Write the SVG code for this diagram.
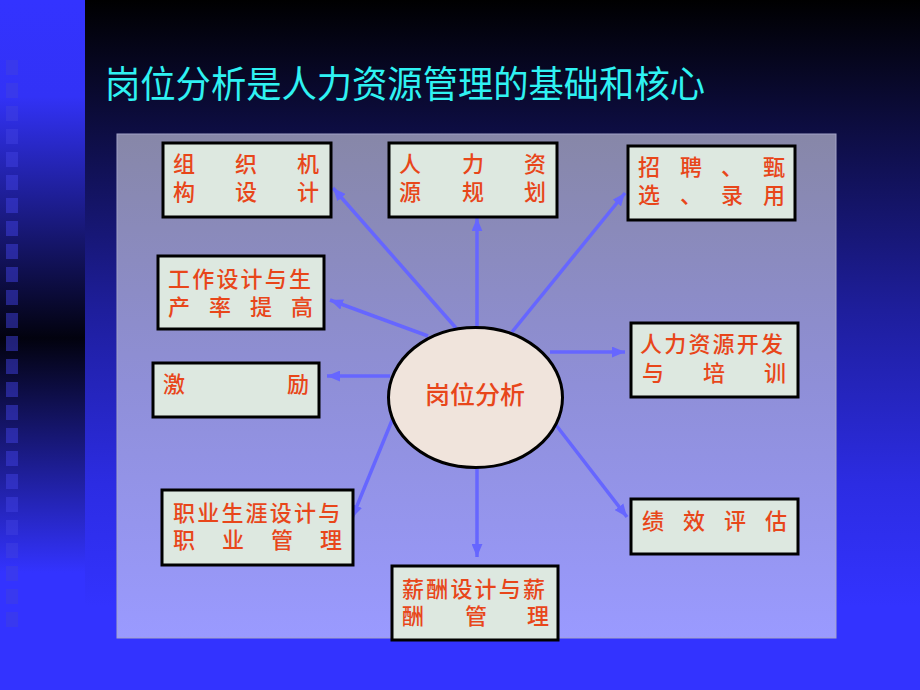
<svg xmlns="http://www.w3.org/2000/svg" width="920" height="690" viewBox="0 0 920 690">
<defs>
<linearGradient id="bgMain" x1="0" y1="0" x2="0" y2="1">
<stop offset="0" stop-color="#000000"/>
<stop offset="0.2" stop-color="#0e0e46"/>
<stop offset="0.45" stop-color="#1e1e9c"/>
<stop offset="0.7" stop-color="#2c2ce2"/>
<stop offset="0.88" stop-color="#3333ff"/>
<stop offset="1" stop-color="#3333ff"/>
</linearGradient>
<linearGradient id="bgStrip" x1="0" y1="0" x2="0" y2="1">
<stop offset="0" stop-color="#3333ff"/>
<stop offset="0.14" stop-color="#3232f6"/>
<stop offset="0.49" stop-color="#02020e"/>
<stop offset="0.83" stop-color="#3333ff"/>
<stop offset="1" stop-color="#3333ff"/>
</linearGradient>
<linearGradient id="panel" x1="0" y1="0" x2="0" y2="1">
<stop offset="0" stop-color="#8787a8"/>
<stop offset="0.5" stop-color="#8f8fd8"/>
<stop offset="1" stop-color="#9a9aff"/>
</linearGradient>
<pattern id="sq" x="0" y="60" width="20" height="23" patternUnits="userSpaceOnUse">
<rect x="6" y="0" width="12" height="15" fill="#4040e0" fill-opacity="0.5"/>
</pattern>
<marker id="ah" viewBox="0 0 12 10" refX="12" refY="5" markerWidth="13" markerHeight="11" markerUnits="userSpaceOnUse" orient="auto">
<path d="M0,0 L12,5 L0,10 z" fill="#6666ff"/>
</marker>
</defs>
<style>
.box{fill:#dde8e0;stroke:#000;stroke-width:3}
.t{font-family:"Noto Sans CJK SC","Noto Sans CJK JP",sans-serif;font-size:22px;font-weight:500;fill:#e8461a}
.r{letter-spacing:2.2px}
.c{stroke:#6666ff;stroke-width:3.5;fill:none;marker-end:url(#ah)}
</style>
<rect x="0" y="0" width="920" height="690" fill="url(#bgMain)"/>
<rect x="0" y="0" width="85" height="690" fill="url(#bgStrip)"/>
<rect x="0" y="60" width="20" height="575" fill="url(#sq)"/>
<text x="105" y="98" textLength="600" lengthAdjust="spacingAndGlyphs" style="font-family:'Noto Sans CJK SC','Noto Sans CJK JP',sans-serif;font-size:37px;fill:#2ff2f2">岗位分析是人力资源管理的基础和核心</text>
<rect x="117" y="134" width="719" height="504" fill="url(#panel)" stroke="#a4a4c8" stroke-width="1"/>
<g id="connectors">
<line class="c" x1="456" y1="328" x2="333" y2="188"/>
<line class="c" x1="428" y1="336" x2="330" y2="300"/>
<line class="c" x1="477" y1="327" x2="477" y2="218"/>
<line class="c" x1="512" y1="332" x2="625" y2="193"/>
<line class="c" x1="550" y1="352" x2="625" y2="352"/>
<line class="c" x1="390" y1="376" x2="327" y2="376"/>
<line class="c" x1="393" y1="418" x2="352" y2="518"/>
<line class="c" x1="477" y1="468" x2="477" y2="557"/>
<line class="c" x1="556" y1="425" x2="627" y2="517"/>
</g>
<g id="center">
<ellipse cx="475.5" cy="397.5" rx="87" ry="70" fill="#f0e4dc" stroke="#000" stroke-width="3"/>
<text x="475" y="404" text-anchor="middle" class="t" style="font-size:25px">岗位分析</text>
</g>
<g id="n1">
<rect class="box" x="163" y="143" width="168" height="74"/>
<text class="t" x="173 235 297" y="172">组织机</text>
<text class="t" x="173 235 297" y="200">构设计</text>
</g>
<g id="n2">
<rect class="box" x="389" y="143" width="168" height="74"/>
<text class="t" x="399 462 524" y="172">人力资</text>
<text class="t" x="399 462 524" y="200">源规划</text>
</g>
<g id="n3">
<rect class="box" x="628" y="146" width="167" height="74"/>
<text class="t" x="638 680 721 763" y="175">招聘、甄</text>
<text class="t" x="638 680 721 763" y="203">选、录用</text>
</g>
<g id="n4">
<rect class="box" x="158" y="256" width="166" height="73"/>
<text class="t r" x="168" y="287">工作设计与生</text>
<text class="t" x="168 209 250 291" y="315">产率提高</text>
</g>
<g id="n5">
<rect class="box" x="153" y="363" width="166" height="54"/>
<text class="t" x="163 287" y="392">激励</text>
</g>
<g id="n6">
<rect class="box" x="162" y="490" width="191" height="75"/>
<text class="t r" x="173" y="521">职业生涯设计与</text>
<text class="t" x="173 222 271 320" y="548">职业管理</text>
</g>
<g id="n7">
<rect class="box" x="392" y="566" width="166" height="74"/>
<text class="t r" x="402" y="597">薪酬设计与薪</text>
<text class="t" x="402 465 527" y="624">酬管理</text>
</g>
<g id="n8">
<rect class="box" x="631" y="323" width="167" height="74"/>
<text class="t r" x="640" y="352">人力资源开发</text>
<text class="t" x="642 703 764" y="381">与培训</text>
</g>
<g id="n9">
<rect class="box" x="631" y="499" width="167" height="55"/>
<text class="t" x="642 683 724 765" y="529">绩效评估</text>
</g>
</svg>
